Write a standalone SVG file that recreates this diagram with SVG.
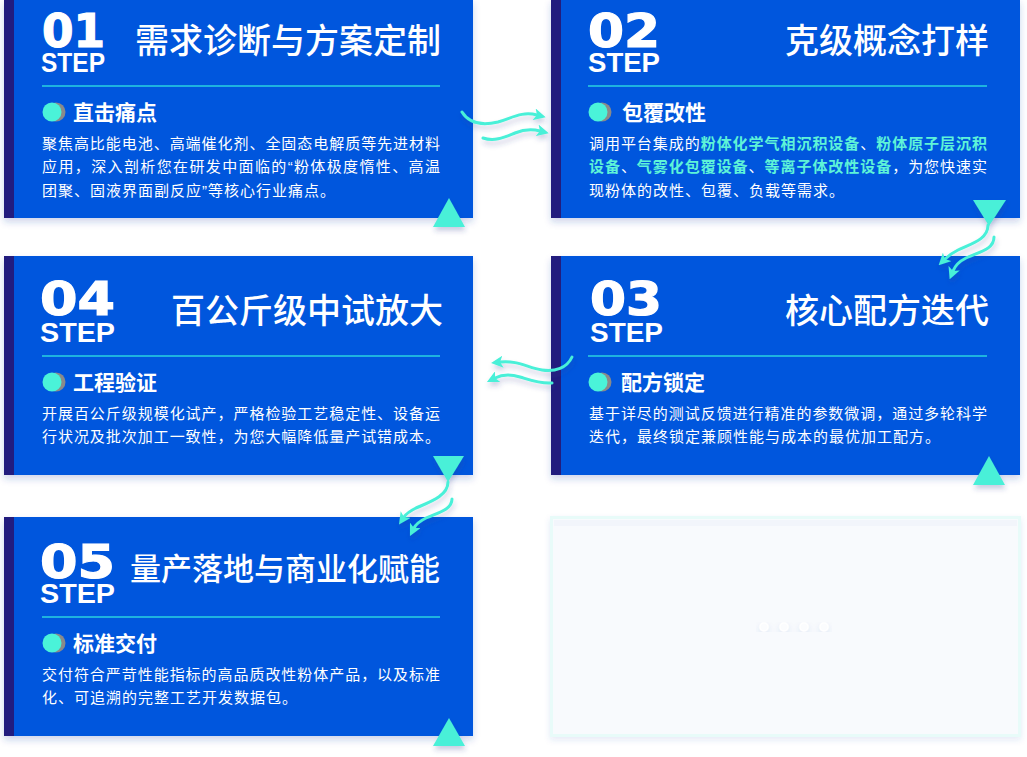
<svg xmlns="http://www.w3.org/2000/svg" width="1027" height="757" viewBox="0 0 1027 757">
<defs>
<filter id="cardShadow" x="-5%" y="-5%" width="110%" height="115%">
<feDropShadow dx="0" dy="4" stdDeviation="3.5" flood-color="#1b3fa8" flood-opacity="0.22"/>
</filter>
<filter id="softShadow" x="-30%" y="-30%" width="160%" height="180%">
<feDropShadow dx="1" dy="4" stdDeviation="2.5" flood-color="#2a3f8f" flood-opacity="0.25"/>
</filter>
<filter id="emptyShadow" x="-5%" y="-5%" width="110%" height="115%">
<feDropShadow dx="0" dy="3" stdDeviation="3" flood-color="#3b5bb8" flood-opacity="0.12"/>
</filter>
<marker id="head" viewBox="0 0 12 12" refX="3" refY="6" markerWidth="12" markerHeight="12" markerUnits="userSpaceOnUse" orient="auto">
<path d="M0,0 L12,6 L0,12 L3,6 Z" fill="#48f0d8"/>
</marker>
<style>
.card{fill:#0356dd}
.strip{fill:#221c7e}
.badge{font-family:"DejaVu Sans",sans-serif;font-weight:bold;fill:#fff}
.num{font-size:46px;stroke:#fff;stroke-width:1.2}
.step{font-family:"Liberation Sans","DejaVu Sans",sans-serif;font-weight:bold;font-size:27px;stroke:none}
.title{font-family:"Noto Sans CJK SC",sans-serif;font-weight:500;font-size:34px;fill:#fff;text-anchor:end}
.sep{stroke:#1eb3df;stroke-width:2}
.dotA{fill:#4af3d9}
.dotB{fill:#8a8a8a}
.sub{font-family:"Noto Sans CJK SC",sans-serif;font-weight:bold;font-size:21px;fill:#fff}
.body{font-family:"Liberation Sans","Noto Sans CJK SC",sans-serif;font-size:15px;fill:#fff;letter-spacing:1px}
.hl{fill:#5ef3d8;font-weight:bold}
.tri{fill:#48f0d8}
.flow{fill:none;stroke:#48f0d8;stroke-width:3;stroke-linecap:round;marker-end:url(#head)}
</style>
</defs>
<rect width="1027" height="757" fill="#ffffff"/>

<g id="step01" transform="translate(4,-1)">
<rect class="card" x="0" y="0" width="469" height="219" filter="url(#cardShadow)"/>
<rect class="strip" x="0" y="0" width="10" height="219"/>
<text class="badge"><tspan class="num" x="38" y="48" textLength="63" lengthAdjust="spacingAndGlyphs">01</tspan><tspan class="step" x="37" y="73" textLength="64" lengthAdjust="spacingAndGlyphs">STEP</tspan></text>
<text class="title" x="437" y="54">需求诊断与方案定制</text>
<line class="sep" x1="38" y1="87" x2="436" y2="87"/>
<circle class="dotB" cx="52" cy="113" r="9.5"/>
<circle class="dotA" cx="48" cy="113" r="9.5"/>
<text class="sub" x="69" y="121">直击痛点</text>
<text class="body" x="38" y="150" textLength="399" lengthAdjust="spacing">聚焦高比能电池、高端催化剂、全固态电解质等先进材料</text>
<text class="body" x="38" y="173" textLength="399" lengthAdjust="spacing">应用，深入剖析您在研发中面临的“粉体极度惰性、高温</text>
<text class="body" x="38" y="197">团聚、固液界面副反应”等核心行业痛点。</text>
</g>

<g id="step02" transform="translate(551,-1)">
<rect class="card" x="0" y="0" width="469" height="219" filter="url(#cardShadow)"/>
<rect class="strip" x="0" y="0" width="10" height="219"/>
<text class="badge"><tspan class="num" x="37" y="48" textLength="72" lengthAdjust="spacingAndGlyphs">02</tspan><tspan class="step" x="37" y="73" textLength="72" lengthAdjust="spacingAndGlyphs">STEP</tspan></text>
<text class="title" x="438" y="54">克级概念打样</text>
<line class="sep" x1="37" y1="87" x2="436" y2="87"/>
<circle class="dotB" cx="51" cy="113" r="9.5"/>
<circle class="dotA" cx="47" cy="113" r="9.5"/>
<text class="sub" x="71" y="121">包覆改性</text>
<text class="body" x="38" y="150" textLength="399" lengthAdjust="spacing">调用平台集成的<tspan class="hl">粉体化学气相沉积设备</tspan>、<tspan class="hl">粉体原子层沉积</tspan></text>
<text class="body" x="38" y="173" textLength="399" lengthAdjust="spacing"><tspan class="hl">设备</tspan>、<tspan class="hl">气雾化包覆设备</tspan>、<tspan class="hl">等离子体改性设备</tspan>，为您快速实</text>
<text class="body" x="38" y="197">现粉体的改性、包覆、负载等需求。</text>
</g>

<g id="step03" transform="translate(551,256)">
<rect class="card" x="0" y="0" width="469" height="219" filter="url(#cardShadow)"/>
<rect class="strip" x="0" y="0" width="10" height="219"/>
<g transform="translate(0,13)">
<text class="badge"><tspan class="num" x="39" y="46" textLength="72" lengthAdjust="spacingAndGlyphs">03</tspan><tspan class="step" x="39" y="73" textLength="73" lengthAdjust="spacingAndGlyphs">STEP</tspan></text>
<text class="title" x="438" y="54">核心配方迭代</text>
<line class="sep" x1="37" y1="87" x2="436" y2="87"/>
<circle class="dotB" cx="51" cy="113" r="9.5"/>
<circle class="dotA" cx="47" cy="113" r="9.5"/>
<text class="sub" x="70" y="121">配方锁定</text>
<text class="body" x="38" y="150" textLength="399" lengthAdjust="spacing">基于详尽的测试反馈进行精准的参数微调，通过多轮科学</text>
<text class="body" x="38" y="173">迭代，最终锁定兼顾性能与成本的最优加工配方。</text>
</g>
</g>

<g id="step04" transform="translate(4,256)">
<rect class="card" x="0" y="0" width="469" height="219" filter="url(#cardShadow)"/>
<rect class="strip" x="0" y="0" width="10" height="219"/>
<g transform="translate(0,13)">
<text class="badge"><tspan class="num" x="36" y="46" textLength="75" lengthAdjust="spacingAndGlyphs">04</tspan><tspan class="step" x="36" y="73" textLength="75" lengthAdjust="spacingAndGlyphs">STEP</tspan></text>
<text class="title" x="439" y="54">百公斤级中试放大</text>
<line class="sep" x1="38" y1="87" x2="436" y2="87"/>
<circle class="dotB" cx="52" cy="113" r="9.5"/>
<circle class="dotA" cx="48" cy="113" r="9.5"/>
<text class="sub" x="69" y="121">工程验证</text>
<text class="body" x="38" y="150" textLength="399" lengthAdjust="spacing">开展百公斤级规模化试产，严格检验工艺稳定性、设备运</text>
<text class="body" x="38" y="173" textLength="399" lengthAdjust="spacing">行状况及批次加工一致性，为您大幅降低量产试错成本。</text>
</g>
</g>

<g id="step05" transform="translate(4,517)">
<rect class="card" x="0" y="0" width="469" height="219" filter="url(#cardShadow)"/>
<rect class="strip" x="0" y="0" width="10" height="219"/>
<g transform="translate(0,13)">
<text class="badge"><tspan class="num" x="36" y="48" textLength="75" lengthAdjust="spacingAndGlyphs">05</tspan><tspan class="step" x="36" y="73" textLength="75" lengthAdjust="spacingAndGlyphs">STEP</tspan></text>
<text class="title" x="436" y="50" style="font-size:31px">量产落地与商业化赋能</text>
<line class="sep" x1="38" y1="87" x2="436" y2="87"/>
<circle class="dotB" cx="52" cy="113" r="9.5"/>
<circle class="dotA" cx="48" cy="113" r="9.5"/>
<text class="sub" x="69" y="121">标准交付</text>
<text class="body" x="38" y="150" textLength="399" lengthAdjust="spacing">交付符合严苛性能指标的高品质改性粉体产品，以及标准</text>
<text class="body" x="38" y="173">化、可追溯的完整工艺开发数据包。</text>
</g>
</g>

<g id="placeholder">
<rect x="551.5" y="517.5" width="468" height="218" fill="#f8fafd" stroke="#e8fbf9" stroke-width="3" filter="url(#emptyShadow)"/>
<rect x="554" y="520" width="463" height="6" fill="#eef1fa" opacity="0.6"/>
<g fill="#fbfcfe" stroke="#ffffff" stroke-width="1.5" filter="url(#emptyShadow)">
<circle cx="764" cy="627" r="4"/>
<circle cx="784" cy="627" r="4"/>
<circle cx="804" cy="627" r="4"/>
<circle cx="824" cy="627" r="4"/>
</g>
</g>

<g id="connectors" filter="url(#softShadow)">
<polygon class="tri" points="433,227 465,227 449,198"/>
<polygon class="tri" points="973,200 1006,200 989,226"/>
<polygon class="tri" points="973,485 1005,485 989,456"/>
<polygon class="tri" points="433,456 464,456 448,482"/>
<polygon class="tri" points="433,746 465,746 449,718"/>
<path class="flow" d="M462,112 C470,125 485,125 498,122 C512,118 522,111 537,115"/>
<path class="flow" d="M483,138 C495,142 505,137 515,133 C525,129 532,129 540,131"/>
<path class="flow" d="M988,225 C988,240 970,244 958,250 C950,254 947,257 945,259"/>
<path class="flow" d="M994,237 C994,250 978,252 966,258 C958,262 955,266 953,271"/>
<path class="flow" d="M572,357 C567,368 555,372 542,370 C528,368 518,360 500,362"/>
<path class="flow" d="M552,383 C540,384 530,380 520,377 C510,374 503,374 495,378"/>
<path class="flow" d="M448,482 C448,496 430,502 416,508 C410,511 406,514 404,517"/>
<path class="flow" d="M452,499 C452,510 437,513 426,518 C420,521 416,524 414,528"/>
</g>
</svg>
